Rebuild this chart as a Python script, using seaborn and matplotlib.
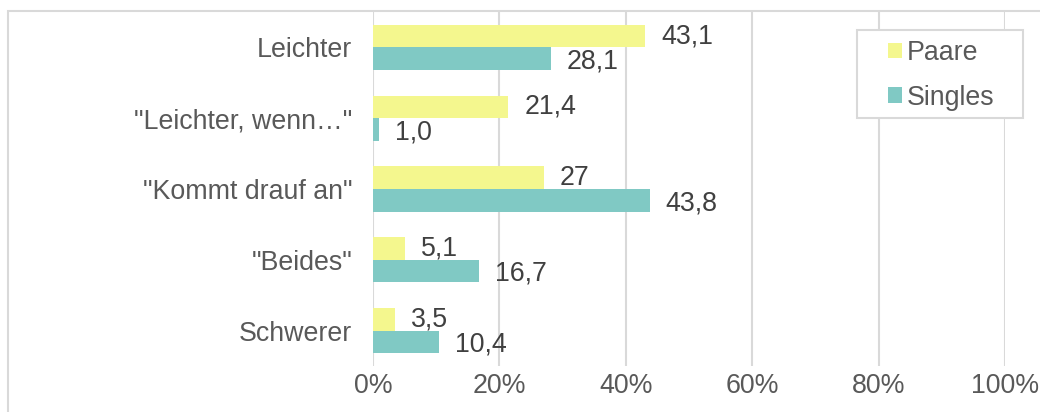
import seaborn as sns
import matplotlib.pyplot as plt
import pandas as pd
from matplotlib.patches import Rectangle
from matplotlib.ticker import PercentFormatter

# Data
categories = ['Leichter', '"Leichter, wenn…"', '"Kommt drauf an"', '"Beides"', 'Schwerer']
paare = [43.1, 21.4, 27.0, 5.1, 3.5]
singles = [28.1, 1.0, 43.8, 16.7, 10.4]
paare_labels = ['43,1', '21,4', '27', '5,1', '3,5']
singles_labels = ['28,1', '1,0', '43,8', '16,7', '10,4']
groups = ['Paare', 'Singles']

df = pd.DataFrame({
    'Kategorie': categories * 2,
    'Wert': paare + singles,
    'Gruppe': ['Paare'] * len(categories) + ['Singles'] * len(categories),
})

sns.set_style("white")
plt.rcParams['font.family'] = ['Liberation Sans', 'DejaVu Sans']

text_col = '#595959'
value_col = '#404040'
grid_col = '#d9d9d9'
fs = 19.3

W, H = 1040, 412
fig = plt.figure(figsize=(W / 100, H / 100), dpi=100)
fig.patch.set_facecolor('white')

# outer chart frame (only left and top edges visible in the crop)
fig.patches.append(Rectangle((8 / W, -0.2), 1.2, 0.2 + (H - 11) / H,
                             transform=fig.transFigure, fill=False,
                             edgecolor=grid_col, linewidth=1.5, clip_on=False))

ax = fig.add_axes([373 / W, 1 - 366 / H, (1005 - 373) / W, (366 - 12) / H])

sns.barplot(data=df, y='Kategorie', x='Wert', hue='Gruppe', orient='h',
            palette={'Paare': '#f4f78e', 'Singles': '#80c9c4'},
            saturation=1, linewidth=0,
            width=0.64, gap=0, ax=ax, legend=True)

ax.set_xlim(0, 100)
ax.xaxis.set_major_formatter(PercentFormatter(decimals=0))
ax.set_xticks([0, 20, 40, 60, 80, 100])
ax.xaxis.grid(True, color=grid_col, linewidth=1.5)
ax.yaxis.grid(False)
ax.set_axisbelow(True)
for s in ax.spines.values():
    s.set_visible(False)
ax.set_xlabel('')
ax.set_ylabel('')
ax.tick_params(axis='both', length=0, labelsize=fs, colors=text_col)
ax.tick_params(axis='y', pad=15)
ax.tick_params(axis='x', pad=5)

# value labels
for cont, labels, dy in zip(ax.containers, [paare_labels, singles_labels], [0, 2]):
    for rect, lab in zip(cont, labels):
        y = rect.get_y() + rect.get_height() / 2
        ax.annotate(lab, (rect.get_width(), y), xytext=(11.5, -dy),
                    textcoords='offset points', va='center', ha='left',
                    fontsize=fs, color=value_col)

# legend box drawn separately so its padding can match the reference
ax.add_patch(Rectangle((857 / W, 1 - 118 / H), (1023 - 857) / W, 88 / H,
                       transform=fig.transFigure, facecolor='white',
                       edgecolor=grid_col, linewidth=1.5, zorder=5, clip_on=False))
leg = ax.legend(loc='upper left', bbox_to_anchor=(888 / W, 1 - 40 / H),
                bbox_transform=fig.transFigure, borderaxespad=0, borderpad=0,
                frameon=False, fontsize=fs,
                handlelength=0.52, handleheight=0.52, handletextpad=0.19,
                labelspacing=0.7, title=None)
leg.set_zorder(6)
for t in leg.get_texts():
    t.set_color(text_col)

fig.savefig('out.png', dpi=100, facecolor='white')
plt.close(fig)
